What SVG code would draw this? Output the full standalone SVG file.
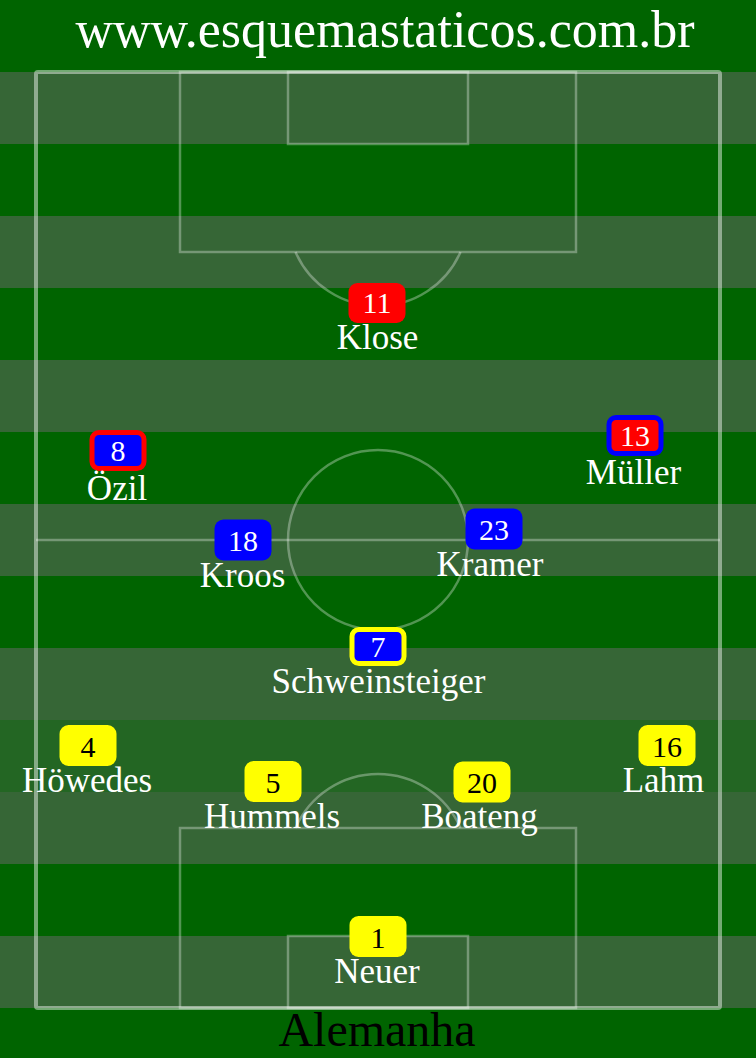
<svg xmlns="http://www.w3.org/2000/svg" width="756" height="1058" viewBox="0 0 756 1058">
<style>
.dark{fill:#006400}
.light{fill:#366636}
.mid{fill:#236623}
.outer{fill:none;stroke:#ffffff;stroke-opacity:0.45;stroke-width:4}
.line{fill:none;stroke:#ffffff;stroke-opacity:0.32;stroke-width:2.5}
.name{font-family:"Liberation Serif","Times New Roman",serif;font-size:35px;fill:#ffffff;text-anchor:middle}
.num{font-family:"Liberation Serif","Times New Roman",serif;font-size:30px;text-anchor:middle}
.w{fill:#ffffff}
.k{fill:#000000}
.title{font-family:"Liberation Serif","Times New Roman",serif;font-size:52px;fill:#ffffff;text-anchor:middle}
.team{font-family:"Liberation Serif","Times New Roman",serif;font-size:48px;fill:#000000;text-anchor:middle}
.red{fill:#ff0000}
.blue{fill:#0000ff}
.yel{fill:#ffff00}
</style>
<g id="field">
<rect x="0" y="0" width="756" height="1058" class="dark"/>
<rect x="0" y="72" width="756" height="72" class="light"/>
<rect x="0" y="216" width="756" height="72" class="light"/>
<rect x="0" y="360" width="756" height="72" class="light"/>
<rect x="0" y="504" width="756" height="72" class="light"/>
<rect x="0" y="648" width="756" height="72" class="light"/>
<rect x="0" y="720" width="756" height="72" class="mid"/>
<rect x="0" y="792" width="756" height="72" class="light"/>
<rect x="0" y="936" width="756" height="72" class="light"/>
<line x1="36" y1="540" x2="720" y2="540" class="line"/>
<circle cx="378" cy="540" r="90" class="line"/>
<rect x="180" y="72" width="396" height="180" class="line"/>
<rect x="288" y="72" width="180" height="72" class="line"/>
<path d="M 295.5 252 A 90 90 0 0 0 460.5 252" class="line"/>
<rect x="180" y="828" width="396" height="180" class="line"/>
<rect x="288" y="936" width="180" height="72" class="line"/>
<path d="M 295.5 828 A 90 90 0 0 1 460.5 828" class="line"/>
<rect x="36" y="72" width="684" height="936" rx="2" class="outer"/>
<text x="385" y="47" class="title">www.esquemastaticos.com.br</text>
<text x="377" y="1046" class="team">Alemanha</text>
</g>
<g id="connectors"/>
<g id="klose">
<rect x="348.5" y="283" width="57" height="40" rx="9" class="red"/>
<text x="377" y="312.5" class="num w">11</text>
<text x="377.5" y="349" class="name">Klose</text>
</g>
<g id="ozil">
<rect x="92" y="432.5" width="52" height="36" rx="7" class="blue" stroke="#ff0000" stroke-width="5"/>
<text x="118" y="461" class="num w">8</text>
<text x="117" y="499.5" class="name">Özil</text>
</g>
<g id="muller">
<rect x="609" y="417.5" width="52" height="36" rx="7" class="red" stroke="#0000ff" stroke-width="5"/>
<text x="635" y="446" class="num w">13</text>
<text x="633.5" y="483.5" class="name">Müller</text>
</g>
<g id="kroos">
<rect x="214.5" y="519.5" width="57" height="41" rx="9" class="blue"/>
<text x="243" y="550.5" class="num w">18</text>
<text x="242.5" y="586.5" class="name">Kroos</text>
</g>
<g id="kramer">
<rect x="465.5" y="508.5" width="57" height="41" rx="9" class="blue"/>
<text x="494" y="539.5" class="num w">23</text>
<text x="490" y="575.5" class="name">Kramer</text>
</g>
<g id="schweinsteiger">
<rect x="352" y="629.5" width="52" height="34" rx="7" class="blue" stroke="#ffff00" stroke-width="5"/>
<text x="378" y="657" class="num w">7</text>
<text x="378.5" y="693" class="name">Schweinsteiger</text>
</g>
<g id="howedes">
<rect x="59.5" y="725" width="57" height="41" rx="9" class="yel"/>
<text x="88" y="756.5" class="num k">4</text>
<text x="87" y="791.5" class="name">Höwedes</text>
</g>
<g id="hummels">
<rect x="244.5" y="761" width="57" height="41" rx="9" class="yel"/>
<text x="273" y="792.5" class="num k">5</text>
<text x="272" y="828" class="name">Hummels</text>
</g>
<g id="boateng">
<rect x="453.5" y="761.5" width="57" height="41" rx="9" class="yel"/>
<text x="482" y="793" class="num k">20</text>
<text x="479.5" y="828" class="name">Boateng</text>
</g>
<g id="lahm">
<rect x="638.5" y="725" width="57" height="41" rx="9" class="yel"/>
<text x="667" y="756.5" class="num k">16</text>
<text x="663.5" y="792" class="name">Lahm</text>
</g>
<g id="neuer">
<rect x="349.5" y="916" width="57" height="41" rx="9" class="yel"/>
<text x="378" y="947.5" class="num k">1</text>
<text x="377" y="983" class="name">Neuer</text>
</g>
</svg>
